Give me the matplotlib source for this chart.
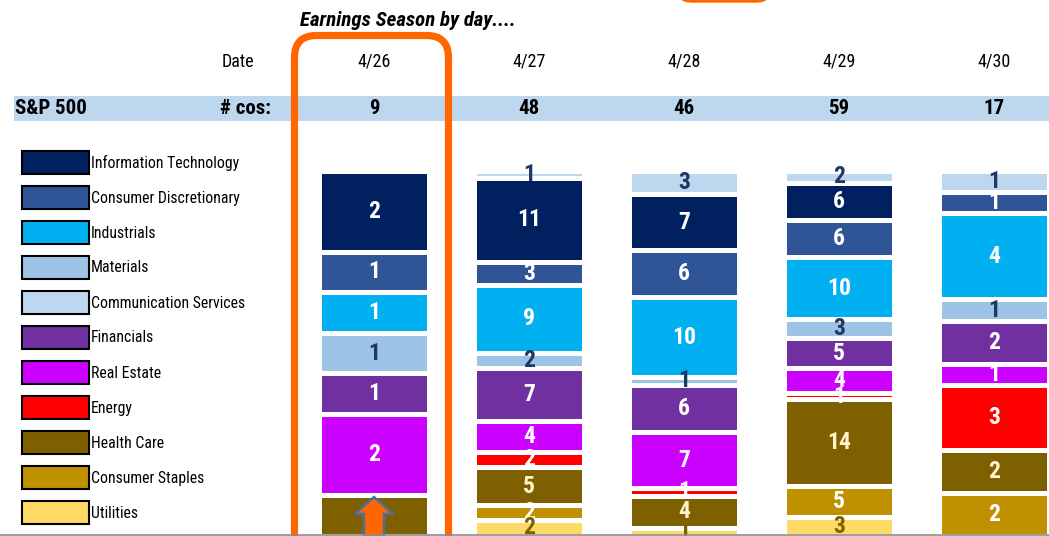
import numpy as np
import matplotlib
matplotlib.use("Agg")
import matplotlib.pyplot as plt
from matplotlib import font_manager
from matplotlib.patches import FancyBboxPatch, Polygon, Rectangle

names = {f.name for f in font_manager.fontManager.ttflist}
narrow = None
for cand in ["Liberation Sans Narrow", "Arial Narrow", "Roboto Condensed",
             "Open Sans Condensed", "DejaVu Sans Condensed", "Noto Sans Condensed"]:
    if cand in names:
        narrow = cand
        break
stretch = "normal"
if narrow is None:
    cond = [f for f in font_manager.fontManager.ttflist
            if f.name in ("Roboto", "Open Sans", "Noto Sans", "DejaVu Sans", "Inter")
            and str(f.stretch) in ("condensed", "semi-condensed", "extra-condensed", "75", "87.5")]
    if cond:
        narrow = cond[0].name
        stretch = "condensed"
if narrow is None:
    narrow = "Liberation Sans"
    shrink = 0.86
else:
    shrink = 1.0
plt.rcParams["font.family"] = [narrow, "DejaVu Sans"]
plt.rcParams["font.stretch"] = stretch

dates = ["4/26", "4/27", "4/28", "4/29", "4/30"]
n_cos = [9, 48, 46, 59, 17]

# stacking order, top to bottom
sectors = ["Communication Services", "Information Technology", "Consumer Discretionary",
           "Industrials", "Materials", "Financials", "Real Estate", "Energy",
           "Health Care", "Consumer Staples", "Utilities"]
counts = {
    "Communication Services": [0, 1, 3, 2, 1],
    "Information Technology": [2, 11, 7, 6, 0],
    "Consumer Discretionary": [1, 3, 6, 6, 1],
    "Industrials":            [1, 9, 10, 10, 4],
    "Materials":              [1, 2, 1, 3, 1],
    "Financials":             [1, 7, 6, 5, 2],
    "Real Estate":            [2, 4, 7, 4, 1],
    "Energy":                 [0, 2, 1, 1, 3],
    "Health Care":            [1, 5, 4, 14, 2],
    "Consumer Staples":       [0, 2, 0, 5, 2],
    "Utilities":              [0, 2, 1, 3, 0],
}
legend_order = ["Information Technology", "Consumer Discretionary", "Industrials",
                "Materials", "Communication Services", "Financials", "Real Estate",
                "Energy", "Health Care", "Consumer Staples", "Utilities"]

colors = {
    "Information Technology": "#002060",
    "Consumer Discretionary": "#2F5597",
    "Industrials": "#00B0F0",
    "Materials": "#9DC3E6",
    "Communication Services": "#BDD7EE",
    "Financials": "#7030A0",
    "Real Estate": "#CC00FF",
    "Energy": "#FF0000",
    "Health Care": "#7F6000",
    "Consumer Staples": "#BF9000",
    "Utilities": "#FFD966",
}
text_colors = {
    "Communication Services": "#1F3864",
    "Materials": "#1F3864",
    "Health Care": "#FFF2CC",
    "Utilities": "#7F6000",
}

W, H = 1049, 536
fig = plt.figure(figsize=(W / 100, H / 100), dpi=100)

# bars axes
x = np.arange(len(dates))
pitch = 155.0
left_px, top_px, bot_px = 300, 170.5, 535.5
ax = fig.add_axes([left_px / W, 1 - bot_px / H, (W - left_px) / W, (bot_px - top_px) / H])
ax.set_xlim((left_px - 374) / pitch, (W - 374) / pitch)
ax.set_ylim(1, 0)
ax.axis("off")

totals = np.array(n_cos, dtype=float)
bottom = np.zeros(len(dates))
for s in sectors:
    frac = np.array(counts[s]) / totals
    ax.bar(x, frac, bottom=bottom, width=0.71, color=colors[s], edgecolor="white",
           linewidth=3.6, align="center")
    for i, v in enumerate(counts[s]):
        if v > 0:
            ax.text(x[i], bottom[i] + frac[i] / 2, str(v), ha="center", va="center",
                    fontsize=17 * shrink, fontweight="bold", color=text_colors.get(s, "white"))
    bottom += frac

# overlay axes in pixel coords for header, legend, decorations (drawn on top)
ov = fig.add_axes([0, 0, 1, 1])
ov.set_xlim(0, W)
ov.set_ylim(H, 0)
ov.axis("off")
ov.set_zorder(5)

# header
ov.text(300, 20, "Earnings Season by day....", fontsize=15 * shrink, fontweight="bold",
        fontstyle="italic", ha="left", va="center")
ov.text(238, 62, "Date", fontsize=13 * shrink, ha="center", va="center")
ov.add_patch(Rectangle((14, 96), W - 14, 25, color="#BDD7EE", lw=0, zorder=0))
ov.text(15, 108.5, "S&P 500", fontsize=15 * shrink, fontweight="bold", ha="left", va="center")
ov.text(271, 108.5, "# cos:", fontsize=15 * shrink, fontweight="bold", ha="right", va="center")
for i, d in enumerate(dates):
    cx = 374 + pitch * i
    ov.text(cx, 62, d, fontsize=13 * shrink, ha="center", va="center")
    ov.text(cx, 108.5, str(n_cos[i]), fontsize=15 * shrink, fontweight="bold",
            ha="center", va="center")

# legend
for k, s in enumerate(legend_order):
    cy = 162 + 35 * k
    ov.add_patch(Rectangle((22, cy - 11.5), 67, 23, facecolor=colors[s], edgecolor="black", lw=1.5))
    ov.text(91, cy + 1, s, fontsize=11.3 * shrink, ha="left", va="center")

# orange highlight box
ov.add_patch(FancyBboxPatch((294.5, 35.5), 154, 560, boxstyle="round,pad=0,rounding_size=22",
                            facecolor="none", edgecolor="#FF6600", lw=5.2, zorder=5))
ov.add_patch(FancyBboxPatch((676, -80), 96, 82, boxstyle="round,pad=0,rounding_size=16",
                            facecolor="#FF6600", edgecolor="#FF6600", lw=1, zorder=5))
# arrow
arrow = [(374, 497), (393, 514), (384, 514), (384, 545), (364, 545), (364, 514), (355, 514)]
ov.add_patch(Polygon(arrow, closed=True, facecolor="#FF6600", edgecolor="#4A7198", lw=1.8, zorder=6))
ov.plot([0, W], [535, 535], color="#8C8C8C", lw=1.2, zorder=7)

fig.savefig("out.png", dpi=100)
